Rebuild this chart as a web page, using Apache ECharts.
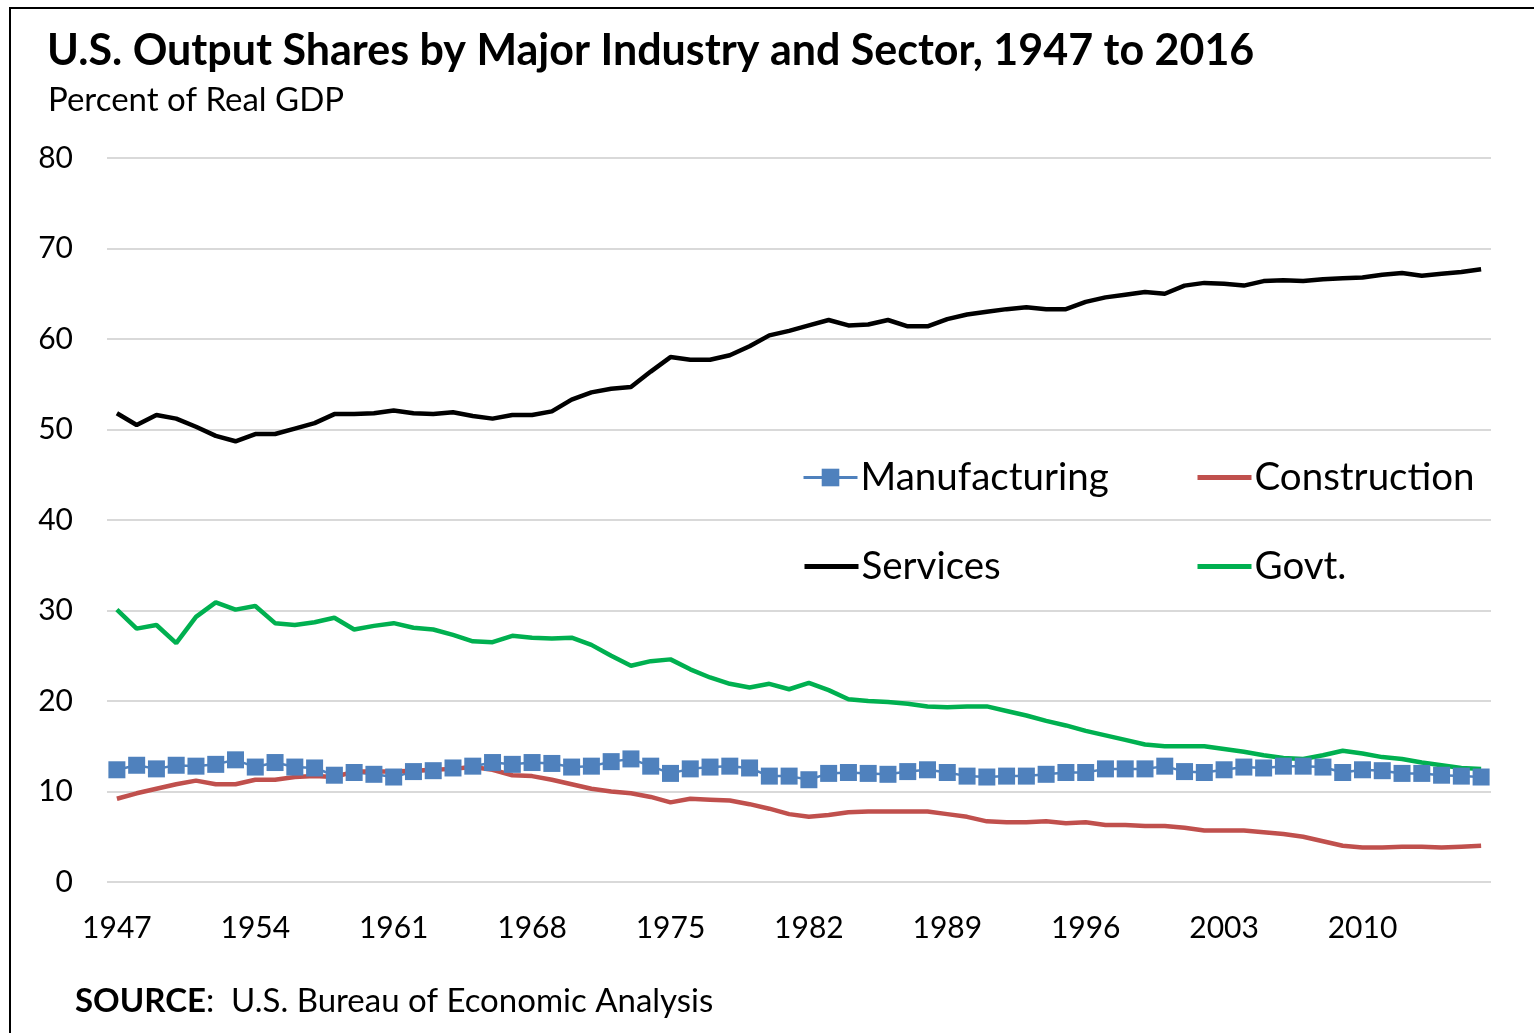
<!DOCTYPE html>
<html>
<head>
<meta charset="utf-8">
<script src="https://cdn.jsdelivr.net/npm/echarts@6/dist/echarts.min.js"></script>
<style>
    html, body {margin: 0; padding: 0; background: #fff;}
    #main {width: 1534px; height: 1033px;}
</style>
</head>
<body>
<div id="main"></div>
<script>
    // years 1947 - 2016
    var years = [];
    for (var y = 1947; y <= 2016; y++) years.push(String(y));

    var yTicks = [0, 10, 20, 30, 40, 50, 60, 70, 80];

    var manufacturing = [12.4, 12.9, 12.5, 12.9, 12.8, 13.0, 13.5, 12.7, 13.2, 12.7,
        12.6, 11.8, 12.1, 11.9, 11.6, 12.2, 12.3, 12.6, 12.8, 13.2,
        13.0, 13.2, 13.1, 12.7,
        12.8, 13.3, 13.6, 12.8, 12.0, 12.5, 12.7, 12.8, 12.6, 11.7,
        11.7, 11.3, 12.0, 12.1, 12.0, 11.9, 12.2, 12.4, 12.1, 11.7,
        11.6, 11.7, 11.7, 11.9, 12.1, 12.1, 12.5, 12.5, 12.5, 12.8,
        12.2, 12.1, 12.4, 12.7, 12.6, 12.8, 12.8, 12.7, 12.1, 12.4,
        12.3, 12.0, 12.0, 11.8, 11.7, 11.6];

    var construction = [9.2, 9.8, 10.3, 10.8, 11.2, 10.8, 10.8, 11.3, 11.3, 11.6,
        11.7, 11.6, 12.2, 12.2, 12.2, 12.3, 12.4, 12.5, 12.7, 12.4,
        11.8, 11.7, 11.3, 10.8,
        10.3, 10.0, 9.8, 9.4, 8.8, 9.2, 9.1, 9.0, 8.6, 8.1,
        7.5, 7.2, 7.4, 7.7, 7.8, 7.8, 7.8, 7.8, 7.5, 7.2,
        6.7, 6.6, 6.6, 6.7, 6.5, 6.6, 6.3, 6.3, 6.2, 6.2,
        6.0, 5.7, 5.7, 5.7, 5.5, 5.3, 5.0, 4.5, 4.0, 3.8,
        3.8, 3.9, 3.9, 3.8, 3.9, 4.0];

    var services = [51.8, 50.5, 51.6, 51.2, 50.3, 49.3, 48.7, 49.5, 49.5, 50.1,
        50.7, 51.7, 51.7, 51.8, 52.1, 51.8, 51.7, 51.9, 51.5, 51.2,
        51.6, 51.6, 52.0, 53.3,
        54.1, 54.5, 54.7, 56.4, 58.0, 57.7, 57.7, 58.2, 59.2, 60.4,
        60.9, 61.5, 62.1, 61.5, 61.6, 62.1, 61.4, 61.4, 62.2, 62.7,
        63.0, 63.3, 63.5, 63.3, 63.3, 64.1, 64.6, 64.9, 65.2, 65.0,
        65.9, 66.2, 66.1, 65.9, 66.4, 66.5, 66.4, 66.6, 66.7, 66.8,
        67.1, 67.3, 67.0, 67.2, 67.4, 67.7];

    var govt = [30.1, 28.0, 28.4, 26.4, 29.3, 30.9, 30.1, 30.5, 28.6, 28.4,
        28.7, 29.2, 27.9, 28.3, 28.6, 28.1, 27.9, 27.3, 26.6, 26.5,
        27.2, 27.0, 26.9, 27.0,
        26.2, 25.0, 23.9, 24.4, 24.6, 23.5, 22.6, 21.9, 21.5, 21.9,
        21.3, 22.0, 21.2, 20.2, 20.0, 19.9, 19.7, 19.4, 19.3, 19.4,
        19.4, 18.9, 18.4, 17.8, 17.3, 16.7, 16.2, 15.7, 15.2, 15.0,
        15.0, 15.0, 14.7, 14.4, 14.0, 13.7, 13.6, 14.0, 14.5, 14.2,
        13.8, 13.6, 13.2, 12.9, 12.6, 12.5];

    var FONT = 'Lato';

    var myChart = echarts.init(document.getElementById('main'));

    // one legend per item so they sit in a 2x2 block like the original
    var legendAt = function (name, left, top, withMarker, color) {
        var item = {name: name, lineStyle: {width: withMarker ? 3 : 5, color: color}};
        if (!withMarker) item.itemStyle = {opacity: 0};
        return {
            data: [item],
            left: left,
            top: top,
            padding: 0,
            itemWidth: 54,
            itemHeight: withMarker ? 22 : 16,
            itemGap: 0,
            textStyle: {fontFamily: FONT, fontSize: 38.5, color: '#000', padding: [0, 0, 0, -2]}
        };
    };

    myChart.setOption({
        animation: false,
        backgroundColor: '#fff',
        title: [
            {
                text: 'U.S. Output Shares by Major Industry and Sector, 1947 to 2016',
                left: 47, top: 30, padding: 0,
                textStyle: {fontFamily: FONT, fontSize: 43, fontWeight: 'bold', color: '#000'}
            },
            {
                text: 'Percent of Real GDP',
                left: 48, top: 84, padding: 0,
                textStyle: {fontFamily: FONT, fontSize: 33, fontWeight: 'normal', color: '#000'}
            },
            {
                text: '{b|SOURCE}:  U.S. Bureau of Economic Analysis',
                left: 75, top: 985, padding: 0,
                textStyle: {
                    fontFamily: FONT, fontSize: 33, fontWeight: 'normal', color: '#000',
                    rich: {b: {fontFamily: FONT, fontSize: 33, fontWeight: 'bold', color: '#000'}}
                }
            }
        ],
        graphic: [{
            type: 'rect',
            shape: {x: 10, y: 8, width: 1540, height: 1040},
            style: {fill: 'none', stroke: '#000', lineWidth: 2},
            silent: true
        }],
        legend: [
            legendAt('Manufacturing', 802, 458, true, '#4F81BD'),
            legendAt('Construction', 1195, 458, false, '#C0504D'),
            legendAt('Services', 802, 547, false, '#000000'),
            legendAt('Govt.', 1195, 547, false, '#00B050')
        ],
        grid: {left: 107, top: 158, width: 1384, height: 724, containLabel: false},
        xAxis: {
            type: 'category',
            data: years,
            boundaryGap: true,
            axisLine: {show: false},
            axisTick: {show: false},
            axisLabel: {interval: 6, margin: 31, fontFamily: FONT, fontSize: 30, color: '#000'}
        },
        yAxis: {
            type: 'value',
            min: yTicks[0],
            max: yTicks[yTicks.length - 1],
            interval: 10,
            axisLine: {show: false},
            axisTick: {show: false},
            axisLabel: {margin: 34, fontFamily: FONT, fontSize: 30, color: '#000'},
            splitLine: {lineStyle: {color: '#d9d9d9', width: 2}}
        },
        series: [
            {
                name: 'Manufacturing',
                type: 'line',
                data: manufacturing,
                symbol: 'rect',
                symbolSize: 17,
                showAllSymbol: true,
                color: '#4F81BD',
                lineStyle: {width: 2.5, color: '#4F81BD'},
                itemStyle: {color: '#4F81BD'}
            },
            {
                name: 'Construction',
                type: 'line',
                data: construction,
                showSymbol: false,
                symbol: 'none',
                color: '#C0504D',
                lineStyle: {width: 4.5, color: '#C0504D'}
            },
            {
                name: 'Services',
                type: 'line',
                data: services,
                showSymbol: false,
                symbol: 'none',
                color: '#000000',
                lineStyle: {width: 4.5, color: '#000000'}
            },
            {
                name: 'Govt.',
                type: 'line',
                data: govt,
                showSymbol: false,
                symbol: 'none',
                color: '#00B050',
                lineStyle: {width: 4.5, color: '#00B050'}
            }
        ]
    });
</script>
</body>
</html>
